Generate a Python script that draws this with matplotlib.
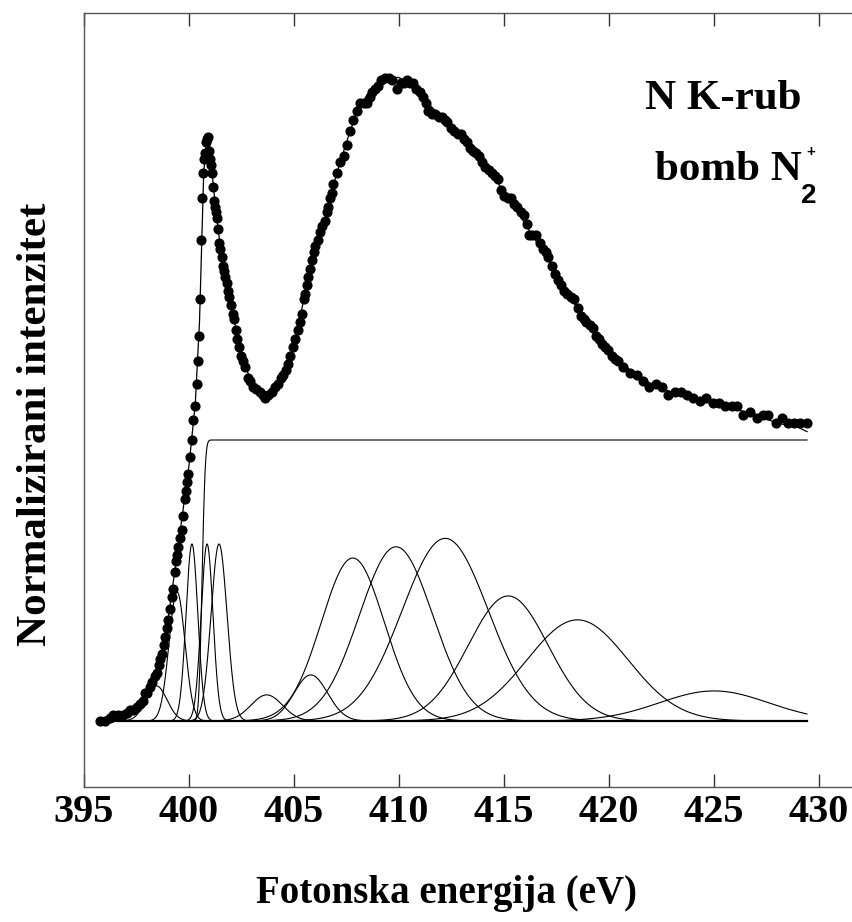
import math
import numpy as np
import matplotlib
matplotlib.use("Agg")
import matplotlib.pyplot as plt

# ---------------- data ----------------
energy_pts = [395.76, 396.00, 396.24, 396.38, 396.62, 396.86, 397.05, 397.19, 397.33, 397.52,
              397.67, 397.81, 397.90, 398.00, 398.14, 398.24, 398.38, 398.48, 398.57, 398.62,
              398.71, 398.81, 398.86, 398.95, 399.00, 399.10, 399.19, 399.24, 399.33, 399.38,
              399.43, 399.48, 399.57, 399.67, 399.71, 399.81, 399.86, 399.90, 399.95, 400.05,
              400.14, 400.19, 400.29, 400.38, 400.43, 400.48, 400.52, 400.57, 400.62, 400.67,
              400.71, 400.76, 400.81, 400.86, 400.90, 400.95, 401.00, 401.05, 401.10, 401.14,
              401.19, 401.24, 401.29, 401.33, 401.38, 401.43, 401.48, 401.57, 401.62, 401.67,
              401.71, 401.81, 401.86, 401.90, 402.00, 402.10, 402.14, 402.24, 402.29, 402.38,
              402.48, 402.57, 402.67, 402.81, 402.90, 403.05, 403.19, 403.38, 403.52, 403.62,
              403.76, 403.95, 404.10, 404.24, 404.38, 404.48, 404.62, 404.71, 404.81, 404.95,
              405.05, 405.19, 405.29, 405.38, 405.48, 405.52, 405.62, 405.67, 405.76, 405.86,
              405.95, 406.00, 406.14, 406.24, 406.33, 406.48, 406.57, 406.62, 406.71, 406.81,
              406.86, 407.05, 407.19, 407.38, 407.52, 407.67, 407.81, 408.00, 408.14, 408.33,
              408.48, 408.62, 408.71, 408.86, 409.00, 409.14, 409.33, 409.52, 409.67, 409.90,
              410.10, 410.24, 410.38, 410.52, 410.67, 410.81, 411.00, 411.14, 411.29, 411.38,
              411.57, 411.71, 411.90, 412.05, 412.19, 412.29, 412.48, 412.62, 412.81, 412.95,
              413.10, 413.24, 413.38, 413.52, 413.67, 413.81, 413.95, 414.10, 414.29, 414.43,
              414.57, 414.71, 414.86, 415.00, 415.19, 415.33, 415.48, 415.62, 415.81, 415.95,
              416.10, 416.19, 416.33, 416.52, 416.71, 416.86, 417.00, 417.10, 417.29, 417.43,
              417.57, 417.71, 417.86, 418.00, 418.19, 418.33, 418.52, 418.67, 418.81, 418.90,
              419.10, 419.24, 419.38, 419.52, 419.67, 419.81, 419.95, 420.14, 420.29, 420.43,
              420.67, 421.00, 421.33, 421.62, 421.90, 422.24, 422.52, 422.81, 423.14, 423.43,
              423.71, 424.00, 424.33, 424.62, 424.95, 425.24, 425.52, 425.86, 426.10, 426.38,
              426.71, 427.05, 427.33, 427.57, 427.95, 428.24, 428.52, 428.81, 429.10, 429.43]
intensity_pts = [0.00, 0.00, 0.01, 0.02, 0.02, 0.02, 0.03, 0.04, 0.04, 0.05,
                 0.06, 0.07, 0.10, 0.10, 0.12, 0.14, 0.16, 0.17, 0.20, 0.22,
                 0.24, 0.27, 0.30, 0.33, 0.36, 0.40, 0.44, 0.47, 0.53, 0.57,
                 0.59, 0.62, 0.65, 0.68, 0.73, 0.79, 0.82, 0.85, 0.88, 0.94,
                 1.00, 1.07, 1.12, 1.20, 1.28, 1.37, 1.50, 1.71, 1.86, 1.95,
                 2.00, 2.02, 2.06, 2.07, 2.08, 2.03, 2.00, 1.98, 1.95, 1.90,
                 1.85, 1.83, 1.81, 1.79, 1.75, 1.70, 1.68, 1.65, 1.62, 1.60,
                 1.58, 1.56, 1.53, 1.51, 1.48, 1.45, 1.43, 1.39, 1.36, 1.33,
                 1.30, 1.28, 1.26, 1.22, 1.21, 1.19, 1.18, 1.17, 1.16, 1.15,
                 1.16, 1.17, 1.19, 1.20, 1.22, 1.23, 1.25, 1.27, 1.30, 1.33,
                 1.36, 1.39, 1.42, 1.45, 1.50, 1.52, 1.55, 1.58, 1.61, 1.64,
                 1.67, 1.69, 1.71, 1.74, 1.76, 1.78, 1.81, 1.83, 1.86, 1.88,
                 1.91, 1.95, 1.99, 2.01, 2.05, 2.10, 2.14, 2.17, 2.20, 2.20,
                 2.20, 2.22, 2.24, 2.25, 2.26, 2.28, 2.29, 2.29, 2.28, 2.25,
                 2.27, 2.27, 2.28, 2.27, 2.27, 2.25, 2.24, 2.22, 2.20, 2.17,
                 2.16, 2.16, 2.15, 2.15, 2.14, 2.13, 2.11, 2.10, 2.09, 2.09,
                 2.07, 2.06, 2.04, 2.03, 2.02, 2.01, 1.99, 1.97, 1.96, 1.95,
                 1.94, 1.93, 1.89, 1.87, 1.86, 1.86, 1.84, 1.83, 1.81, 1.80,
                 1.77, 1.73, 1.73, 1.73, 1.70, 1.68, 1.67, 1.65, 1.62, 1.59,
                 1.57, 1.55, 1.53, 1.52, 1.51, 1.50, 1.47, 1.44, 1.43, 1.42,
                 1.41, 1.40, 1.37, 1.36, 1.34, 1.33, 1.32, 1.30, 1.29, 1.28,
                 1.26, 1.24, 1.23, 1.21, 1.19, 1.20, 1.19, 1.16, 1.17, 1.17,
                 1.16, 1.15, 1.14, 1.15, 1.13, 1.13, 1.12, 1.12, 1.12, 1.09,
                 1.10, 1.08, 1.09, 1.09, 1.06, 1.08, 1.06, 1.06, 1.06, 1.06]

fit_energy = [395.76, 396.5, 397.0, 397.5, 398.0, 398.5, 399.0, 399.5, 400.0, 400.3,
              400.5, 400.7, 400.85, 400.95, 401.1, 401.3, 401.6, 402.0, 402.5, 403.0,
              403.5, 403.75, 404.0, 404.5, 405.0, 405.5, 406.0, 406.5, 407.0, 407.5,
              408.0, 408.5, 409.0, 409.5, 410.0, 410.5, 411.0, 411.5, 412.0, 412.5,
              413.0, 413.5, 414.0, 414.5, 415.0, 415.5, 416.0, 416.5, 417.0, 417.5,
              418.0, 418.5, 419.0, 419.5, 420.0, 420.5, 421.0, 422.0, 423.0, 424.0,
              425.0, 426.0, 427.0, 428.0, 429.0, 429.43]
fit_intensity = [0.00, 0.01, 0.025, 0.05, 0.10, 0.18, 0.36, 0.63, 0.91, 1.13,
                 1.42, 1.95, 2.08, 2.07, 1.95, 1.80, 1.63, 1.48, 1.30, 1.20,
                 1.16, 1.155, 1.17, 1.23, 1.34, 1.51, 1.68, 1.79, 1.94, 2.06,
                 2.17, 2.23, 2.27, 2.29, 2.29, 2.27, 2.24, 2.19, 2.15, 2.11,
                 2.08, 2.04, 1.99, 1.94, 1.88, 1.83, 1.77, 1.71, 1.66, 1.58,
                 1.52, 1.47, 1.42, 1.36, 1.31, 1.28, 1.25, 1.20, 1.17, 1.15,
                 1.13, 1.11, 1.09, 1.06, 1.045, 1.03]

# Gaussian components of the fit
comp_center = [398.45, 399.43, 400.14, 400.86, 401.43, 403.7, 405.8,
               407.8, 409.86, 412.2, 415.2, 418.5, 425.0]
comp_height = [0.125, 0.46, 0.63, 0.63, 0.63, 0.093, 0.164,
               0.58, 0.62, 0.65, 0.445, 0.36, 0.107]
comp_sigma = [0.50, 0.38, 0.28, 0.28, 0.38, 0.75, 0.80,
              1.50, 1.75, 2.05, 1.90, 2.40, 2.60]

# edge step (ionisation threshold)
step_center = 400.62
step_height = 1.0
step_width = 0.17

energy_start, energy_end = 395.76, 429.43
x_ticks = [395, 400, 405, 410, 415, 420, 425, 430]

# ---------------- figure ----------------
W, H = 853, 922
fig = plt.figure(figsize=(W / 100, H / 100), dpi=100)
ax_l, ax_r, ax_t, ax_b = 84, 853, 13, 787
ax = fig.add_axes([ax_l / W, 1 - ax_b / H, (ax_r - ax_l) / W, (ax_b - ax_t) / H])

serif = ["Liberation Serif", "DejaVu Serif"]
sans = ["Liberation Sans", "DejaVu Sans"]

E = np.linspace(energy_start, energy_end, 3000)
erf = np.vectorize(math.erf)
step = step_height * 0.5 * (1 + erf((E - step_center) / step_width))

ax.plot(E, np.zeros_like(E), color="black", lw=1.6, zorder=2)
ax.plot(E, step, color="black", lw=0.8, zorder=2)
for c, h, s in zip(comp_center, comp_height, comp_sigma):
    ax.plot(E, h * np.exp(-0.5 * ((E - c) / s) ** 2), color="black", lw=0.8, zorder=2)

ax.plot(fit_energy, fit_intensity, color="black", lw=0.9, zorder=3)
ax.plot(energy_pts, intensity_pts, "o", color="black", ms=6.3, mec="black", zorder=4)

ax.set_xlim(395, 395 + (ax_r - ax_l) / 21.0)
ax.set_ylim(-66 / 281.0, 708 / 281.0)
ax.set_xticks(x_ticks)
ax.set_xticklabels([str(t) for t in x_ticks], fontfamily=serif, fontweight="bold", fontsize=29)
ax.set_yticks([])
ax.tick_params(axis="x", direction="in", length=9.5, width=1.0, top=True, bottom=True,
               labeltop=False, pad=5, color="#333333")
for side in ("left", "top", "bottom"):
    ax.spines[side].set_color("#555555")
    ax.spines[side].set_linewidth(1.0)
ax.spines["right"].set_visible(False)

fig.text(447 / W, 1 - 893 / H, "Fotonska energija (eV)", family=serif, weight="bold",
         fontsize=28, ha="center", va="center")
fig.text(36 / W, 1 - 424 / H, "Normalizirani intenzitet", family=serif, weight="bold",
         fontsize=31, ha="center", va="center", rotation=90)

fig.text(645 / W, 1 - 109 / H, "N K-rub", family=serif, weight="bold", fontsize=31,
         ha="left", va="baseline")
fig.text(655 / W, 1 - 180 / H, "bomb N", family=serif, weight="bold", fontsize=31,
         ha="left", va="baseline")
fig.text(801 / W, 1 - 203 / H, "2", family=sans, weight="bold", fontsize=20,
         ha="left", va="baseline")
fig.text(806 / W, 1 - 156 / H, "+", family=sans, weight="bold", fontsize=11,
         ha="left", va="baseline")

fig.savefig("out.png", dpi=100)
